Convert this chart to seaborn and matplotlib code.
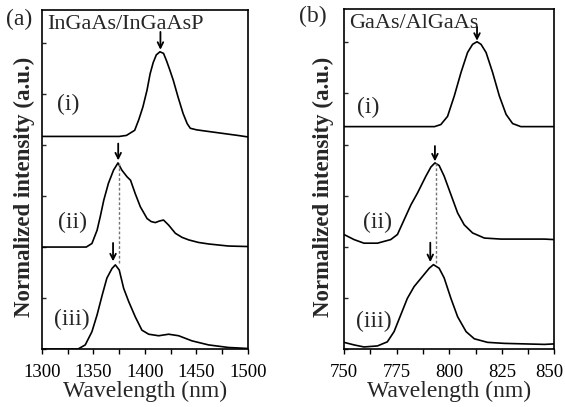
import matplotlib
matplotlib.use("Agg")
import matplotlib.pyplot as plt
from matplotlib.ticker import MultipleLocator, NullFormatter
from matplotlib.transforms import ScaledTranslation
import seaborn as sns
import pandas as pd

# ---------------- data ----------------
# (a) InGaAs/InGaAsP
wl_a1 = [1300, 1340, 1375, 1382, 1386, 1390, 1394, 1398, 1402, 1405, 1408, 1411, 1414.5,
         1418, 1421, 1424, 1427.5, 1432, 1437, 1441, 1444, 1450, 1457, 1468, 1479, 1490, 1500]
int_a1 = [4.17, 4.17, 4.17, 4.19, 4.24, 4.29, 4.50, 4.75, 5.08, 5.40, 5.62, 5.77, 5.83,
          5.80, 5.65, 5.48, 5.27, 4.95, 4.62, 4.42, 4.33, 4.30, 4.28, 4.25, 4.22, 4.19, 4.16]

wl_a2 = [1300, 1343, 1348.5, 1353.5, 1356.5, 1360, 1364.5, 1369.5, 1373.8, 1377.5, 1382.5,
         1386, 1390.5, 1395.5, 1402, 1406, 1410, 1414, 1418, 1423, 1429.5, 1436, 1442.5,
         1452, 1462, 1481, 1500]
int_a2 = [2.0, 2.0, 2.07, 2.33, 2.59, 2.92, 3.25, 3.51, 3.65, 3.51, 3.38,
          3.31, 3.05, 2.79, 2.56, 2.50, 2.48, 2.51, 2.53, 2.43, 2.27, 2.19, 2.14,
          2.09, 2.06, 2.02, 2.01]

wl_a3 = [1300, 1335, 1342, 1348.5, 1353.5, 1358.5, 1363, 1368, 1371.2, 1375, 1379.3, 1384.2,
         1390.6, 1397, 1403.6, 1413.3, 1423, 1432.7, 1445.6, 1461.8, 1481, 1500]
int_a3 = [0.0, 0.0, 0.08, 0.34, 0.67, 1.06, 1.39, 1.58, 1.65, 1.55, 1.19, 0.93,
          0.63, 0.37, 0.29, 0.26, 0.29, 0.26, 0.16, 0.08, 0.03, 0.01]

# (b) GaAs/AlGaAs
wl_b1 = [750, 780, 793, 796, 799.2, 802.4, 805.6, 808.7, 811.1, 813.2, 815.1, 817.5,
         820.6, 823.8, 827, 830.1, 834, 850]
int_b1 = [4.35, 4.35, 4.35, 4.39, 4.55, 4.95, 5.41, 5.80, 5.96, 6.01, 5.96, 5.80,
          5.41, 4.95, 4.59, 4.41, 4.35, 4.35]

wl_b2 = [750, 754.8, 759.5, 765.9, 772.2, 775.4, 778.6, 781.8, 784.9, 788.9, 791.3, 793.2,
         795.2, 797.6, 800.8, 804, 807.1, 811.1, 816.7, 824.6, 834, 845.2, 850]
int_b2 = [2.24, 2.14, 2.07, 2.07, 2.14, 2.24, 2.53, 2.82, 3.05, 3.38, 3.56, 3.64,
          3.59, 3.38, 3.02, 2.66, 2.43, 2.27, 2.17, 2.15, 2.15, 2.15, 2.14]

wl_b3 = [750, 754.8, 759.5, 765.9, 770.6, 773.8, 777, 780.1, 783.3, 787.3, 790.5, 792.5,
         795.2, 797.6, 800.8, 804, 808, 811.9, 818.2, 826.2, 835.7, 845.2, 850]
int_b3 = [0.13, 0.08, 0.04, 0.06, 0.14, 0.34, 0.67, 0.99, 1.22, 1.42, 1.58, 1.65,
          1.58, 1.39, 0.99, 0.63, 0.34, 0.20, 0.13, 0.11, 0.10, 0.09, 0.10]

curve_labels = ["(i)", "(ii)", "(iii)"]
panel_tags = ["(a)", "(b)"]
panel_titles = ["InGaAs/InGaAsP", "GaAs/AlGaAs"]
xticks_a = [1300, 1350, 1400, 1450, 1500]
xticks_b = [750, 775, 800, 825, 850]

# arrows: (x, tail_y, tip_y)
arrows_a = [(1415, 6.22, 5.87), (1374, 4.03, 3.70), (1369, 2.08, 1.72)]
arrows_b = [(813.2, 6.30, 6.03), (793.2, 3.97, 3.67), (791.0, 2.08, 1.70)]
dash_a = (1374.5, 3.65, 1.65)
dash_b = (793.6, 3.64, 1.66)

# ---------------- style ----------------
sns.set_theme(style="ticks")
plt.rcParams["font.family"] = ["Liberation Serif", "DejaVu Serif"]

fig = plt.figure(figsize=(5.65, 4.07), dpi=100)
ax_a = fig.add_axes([0.0743, 0.1425, 0.3646, 0.8329])
ax_b = fig.add_axes([0.6088, 0.1425, 0.3726, 0.8353])


def draw(ax, curves, xlim, xticks, minor, arrows, dash, title, label_pos, ylabelpad):
    for wl, it in curves:
        df = pd.DataFrame({"wl": wl, "I": it})
        sns.lineplot(data=df, x="wl", y="I", ax=ax, color="black", lw=1.2,
                     sort=False, estimator=None)
    for x, ytail, ytip in arrows:
        ax.annotate("", xy=(x, ytip), xytext=(x, ytail),
                    arrowprops=dict(arrowstyle="->", lw=1.3, color="black",
                                    shrinkA=0, shrinkB=0, mutation_scale=10))
    ax.plot([dash[0], dash[0]], [dash[1], dash[2]], color="0.45", lw=1.0,
            dashes=(2, 1.5))
    ax.set_xlim(*xlim)
    ax.set_ylim(0, 6.65)
    ax.set_xticks(xticks, labels=[str(t) for t in xticks])
    ax.xaxis.set_minor_locator(MultipleLocator(minor))
    ax.set_yticks(range(0, 7))
    ax.yaxis.set_major_formatter(NullFormatter())
    ax.tick_params(axis="y", direction="in", length=3, width=1, left=True, right=False)
    ax.tick_params(axis="x", which="both", direction="out", length=3.5, width=1,
                   labelsize=13.5, pad=7.5, colors="black")
    for s in ax.spines.values():
        s.set_linewidth(1.2)
        s.set_color("black")
    ax.set_xlabel("Wavelength (nm)", fontsize=17, labelpad=0)
    ax.set_ylabel("Normalized intensity (a.u.)", fontsize=16.5, fontweight="bold",
                  labelpad=ylabelpad)
    ax.yaxis.label.set_y(0.478)
    ax.text(xlim[0] + (xlim[1] - xlim[0]) * 0.024, 6.36, title, fontsize=16,
            ha="left", va="center")
    for (lx, ly), lab in zip(label_pos, curve_labels):
        ax.text(lx, ly, lab, fontsize=17, ha="center", va="center")


draw(ax_a, [(wl_a1, int_a1), (wl_a2, int_a2), (wl_a3, int_a3)], (1300, 1500), xticks_a,
     25, arrows_a, dash_a, panel_titles[0],
     [(1325.7, 4.8), (1330, 2.49), (1328.6, 0.58)], 1.5)
draw(ax_b, [(wl_b1, int_b1), (wl_b2, int_b2), (wl_b3, int_b3)], (750, 850), xticks_b,
     12.5, arrows_b, dash_b, panel_titles[1],
     [(761.5, 4.72), (765.7, 2.47), (764.3, 0.53)], 3.5)

# keep the last tick label of panel (b) inside the canvas
last = ax_b.xaxis.get_major_ticks()[-1].label1
last.set_transform(last.get_transform() + ScaledTranslation(-0.05, 0, fig.dpi_scale_trans))

fig.text(19.5 / 565, 1 - 19 / 407, panel_tags[0], fontsize=17, ha="center", va="center")
fig.text(312.5 / 565, 1 - 16.5 / 407, panel_tags[1], fontsize=17, ha="center", va="center")

fig.savefig("out.png", dpi=100)
